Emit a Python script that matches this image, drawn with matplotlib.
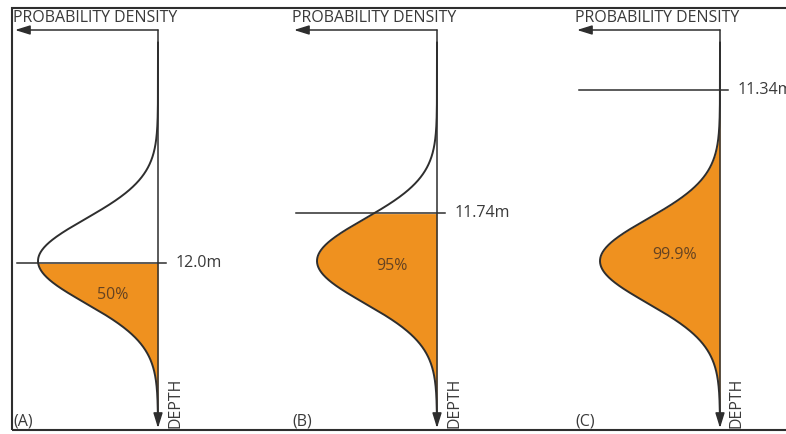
import numpy as np
import matplotlib.pyplot as plt
from matplotlib.patches import Rectangle

plt.rcParams['font.family'] = ['Open Sans', 'DejaVu Sans']

# one panel per cut depth
depth_labels = ['12.0m', '11.74m', '11.34m']
pct_labels = ['50%', '95%', '99.9%']
panel_tags = ['(A)', '(B)', '(C)']
# cut depth in standard deviations from the mean (schematic)
cut_sd = [0.05, -1.14, -4.07]

# layout (pixels of the 786x434 figure)
W, H = 786, 434
axis_px = [158, 437, 720]     # vertical depth axis of each panel
MEAN_PX, SD_PX, PEAK_PX = 261, 42, 120

ORANGE = '#EF911F'
INK = '#2e2e2e'
TXT = '#3a3a3a'
PCT = '#654322'
FS = 11.5

fig = plt.figure(figsize=(W / 100, H / 100), dpi=100)

z = np.linspace(-5.2, 3.9, 600)
dens = np.exp(-0.5 * z ** 2)

for i, x0 in enumerate(axis_px):
    ax = fig.add_axes([(x0 - 150) / W, 0, 280 / W, 1])
    ax.set_xlim(150 / PEAK_PX, -130 / PEAK_PX)
    ax.set_ylim((H - MEAN_PX) / SD_PX, -MEAN_PX / SD_PX)
    ax.axis('off')

    top = (30 - MEAN_PX) / SD_PX
    bottom = (428 - MEAN_PX) / SD_PX

    # filled part below the cut
    m = z >= cut_sd[i]
    ax.fill_betweenx(z[m], 0, dens[m], color=ORANGE, lw=0, zorder=1)
    ax.plot(dens, z, color=INK, lw=1.4, zorder=3)

    # axes with arrows
    arrow = dict(arrowstyle='-|>,head_length=0.9,head_width=0.28', color=INK,
                 lw=1.1, shrinkA=0, shrinkB=0, mutation_scale=10)
    ax.annotate('', xy=(143 / PEAK_PX, top), xytext=(0, top), arrowprops=arrow, zorder=4)
    ax.annotate('', xy=(0, bottom), xytext=(0, top), arrowprops=arrow, zorder=4)

    # cut line and its depth
    ax.plot([141 / PEAK_PX, -8 / PEAK_PX], [cut_sd[i], cut_sd[i]], color=INK, lw=1.1, zorder=4)
    ax.text(-18 / PEAK_PX, cut_sd[i], depth_labels[i], ha='left', va='center',
            fontsize=FS, color=TXT, clip_on=False)

    ax.text(145 / PEAK_PX, (22 - MEAN_PX) / SD_PX, 'PROBABILITY DENSITY', ha='left',
            va='baseline', fontsize=FS, color=TXT)
    ax.text(-17 / PEAK_PX, bottom, 'DEPTH', rotation=90, ha='center', va='bottom',
            fontsize=FS, color=TXT)
    ax.text(145 / PEAK_PX, (430 - MEAN_PX) / SD_PX, panel_tags[i], ha='left', va='bottom',
            fontsize=FS, color=TXT)

    pct_y = [295, 266, 255][i]
    ax.text(45 / PEAK_PX, (pct_y - MEAN_PX) / SD_PX, pct_labels[i], ha='center', va='center',
            fontsize=FS, color=PCT, zorder=5)

# frame round the whole figure (right side runs off the picture)
fig.patches.append(Rectangle((12 / W, 4 / H), 1.0, (H - 12) / H, transform=fig.transFigure,
                             fill=False, ec=INK, lw=1.5))

fig.savefig('out.png', dpi=100, facecolor='white')
